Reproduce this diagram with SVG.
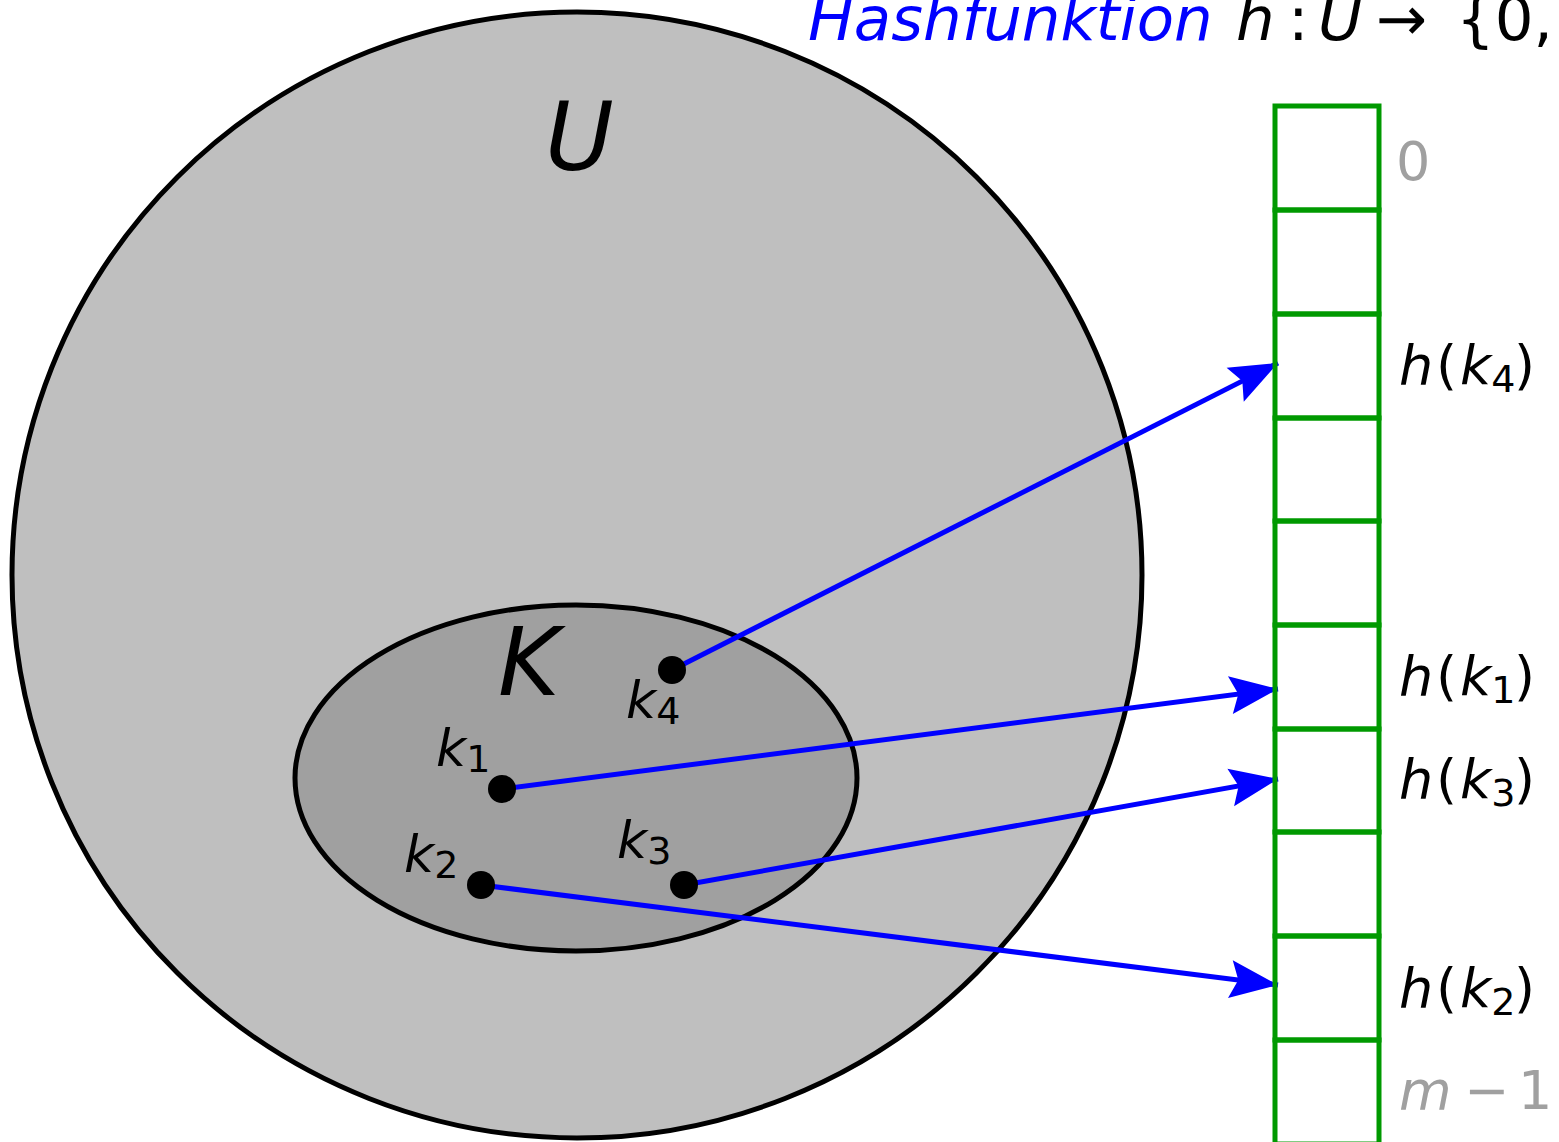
<svg xmlns="http://www.w3.org/2000/svg" width="1559" height="1142" viewBox="0 0 1559 1142">
<defs>
<style>
.t{font-family:"DejaVu Sans",sans-serif;}
.i{font-style:italic;}
.cell{fill:none;stroke:#009900;stroke-width:5;}
.arr{stroke:#0000ff;stroke-width:5;fill:none;marker-end:url(#ah);}
.dot{fill:#000;}
.gray{fill:#a0a0a0;}
</style>
<marker id="ah" markerUnits="userSpaceOnUse" markerWidth="60" markerHeight="44" viewBox="-52 -22 54 44" refX="0" refY="0" orient="auto">
<path d="M0,0 L-48,-19 L-40,0 L-48,19 Z" fill="#0000ff"/>
</marker>
</defs>
<rect width="1559" height="1142" fill="#fff"/>
<g id="title">
<text class="t" x="808" y="40" font-size="61"><tspan class="i" fill="#0000ff">Hashfunktion</tspan><tspan class="i" x="1236">h</tspan><tspan x="1288">:</tspan><tspan class="i" x="1318">U</tspan><tspan x="1376">→</tspan><tspan x="1456">{0,</tspan></text>
</g>
<g id="U">
<ellipse cx="577" cy="575" rx="565" ry="563" fill="#bfbfbf" stroke="#000" stroke-width="5"/>
<text class="t i" x="545" y="170" font-size="94">U</text>
</g>
<g id="K">
<ellipse cx="576" cy="778" rx="281" ry="173" fill="#a0a0a0" stroke="#000" stroke-width="5"/>
<text class="t i" x="498" y="695" font-size="94">K</text>
</g>
<g id="connectors">
<line class="arr" x1="672" y1="670" x2="1278" y2="363"/>
<line class="arr" x1="502" y1="789" x2="1278" y2="689"/>
<line class="arr" x1="684" y1="885" x2="1278" y2="779"/>
<line class="arr" x1="481" y1="885" x2="1278" y2="985"/>
</g>
<g id="k1">
<circle class="dot" cx="502" cy="789" r="14"/>
<text class="t" x="436" y="766" font-size="52"><tspan class="i">k</tspan><tspan font-size="38" dy="6">1</tspan></text>
</g>
<g id="k2">
<circle class="dot" cx="481" cy="885" r="14"/>
<text class="t" x="404" y="872" font-size="52"><tspan class="i">k</tspan><tspan font-size="38" dy="6">2</tspan></text>
</g>
<g id="k3">
<circle class="dot" cx="684" cy="885" r="14"/>
<text class="t" x="617" y="858" font-size="52"><tspan class="i">k</tspan><tspan font-size="38" dy="6">3</tspan></text>
</g>
<g id="k4">
<circle class="dot" cx="672" cy="670" r="14"/>
<text class="t" x="626" y="718" font-size="52"><tspan class="i">k</tspan><tspan font-size="38" dy="6">4</tspan></text>
</g>
<g id="table">
<rect class="cell" x="1275" y="106" width="104" height="104"/>
<rect class="cell" x="1275" y="210" width="104" height="104"/>
<rect class="cell" x="1275" y="314" width="104" height="104"/>
<rect class="cell" x="1275" y="418" width="104" height="103"/>
<rect class="cell" x="1275" y="521" width="104" height="104"/>
<rect class="cell" x="1275" y="625" width="104" height="104"/>
<rect class="cell" x="1275" y="729" width="104" height="103"/>
<rect class="cell" x="1275" y="832" width="104" height="104"/>
<rect class="cell" x="1275" y="936" width="104" height="104"/>
<rect class="cell" x="1275" y="1040" width="104" height="104"/>
</g>
<g id="labels">
<text class="t gray" x="1396" y="180" font-size="54">0</text>
<text class="t" x="1399" y="384" font-size="54"><tspan class="i">h</tspan><tspan x="1436">(</tspan><tspan class="i" x="1460">k</tspan><tspan font-size="38" dy="8">4</tspan><tspan dy="-8" x="1514">)</tspan></text>
<text class="t" x="1399" y="695" font-size="54"><tspan class="i">h</tspan><tspan x="1436">(</tspan><tspan class="i" x="1460">k</tspan><tspan font-size="38" dy="8">1</tspan><tspan dy="-8" x="1514">)</tspan></text>
<text class="t" x="1399" y="798" font-size="54"><tspan class="i">h</tspan><tspan x="1436">(</tspan><tspan class="i" x="1460">k</tspan><tspan font-size="38" dy="8">3</tspan><tspan dy="-8" x="1514">)</tspan></text>
<text class="t" x="1399" y="1007" font-size="54"><tspan class="i">h</tspan><tspan x="1436">(</tspan><tspan class="i" x="1460">k</tspan><tspan font-size="38" dy="8">2</tspan><tspan dy="-8" x="1514">)</tspan></text>
<text class="t gray" x="1399" y="1109" font-size="54"><tspan class="i">m</tspan><tspan x="1464">−</tspan><tspan x="1518">1</tspan></text>
</g>
</svg>
